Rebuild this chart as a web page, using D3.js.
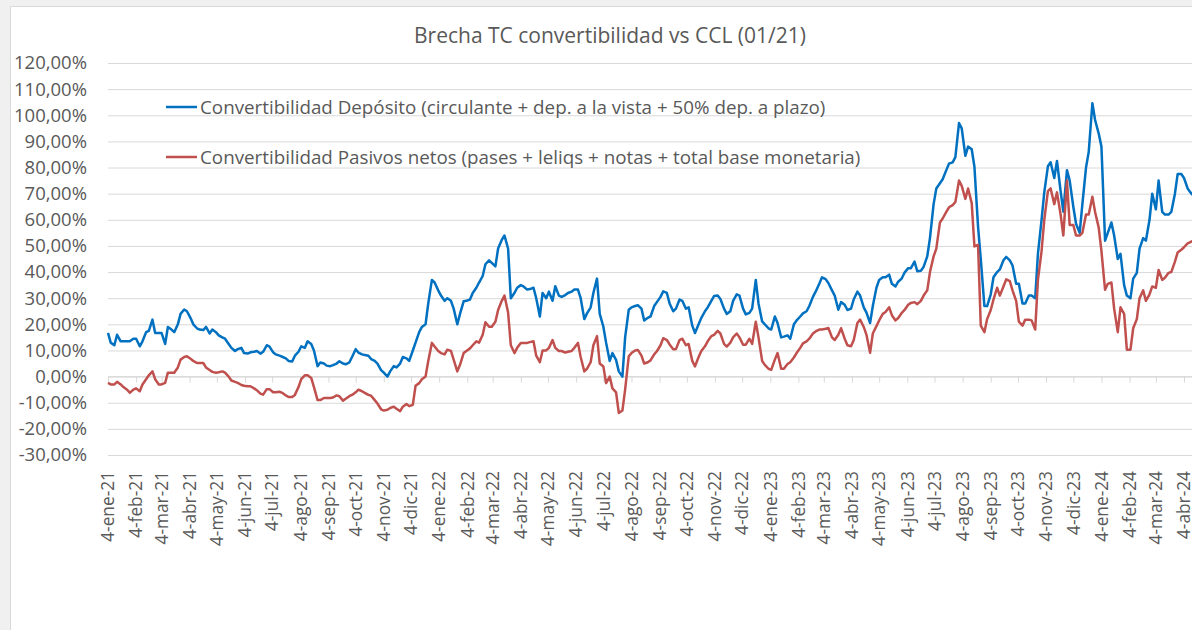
<!DOCTYPE html>
<html lang="es">
<head>
<meta charset="UTF-8">
<title>Brecha TC convertibilidad vs CCL</title>
<script src="https://d3js.org/d3.v7.min.js"></script>
<style>
  body { margin: 0; background: #f0f0f0; }
  svg { display: block; font-family: "Open Sans", "Noto Sans", sans-serif; }
</style>
</head>
<body>
<script>
    const width = 1192
    const height = 630

    const title = "Brecha TC convertibilidad vs CCL (01/21)"
    const seriesNames = [
        "Convertibilidad Depósito (circulante + dep. a la vista + 50% dep. a plazo)",
        "Convertibilidad Pasivos netos (pases + leliqs + notas + total base monetaria)"
    ]
    const colors = ["#0070C0", "#C0504D"]
    const shortMonths = ["ene", "feb", "mar", "abr", "may", "jun", "jul", "ago", "sep", "oct", "nov", "dic"]
    const yTicks = [-30, -20, -10, 0, 10, 20, 30, 40, 50, 60, 70, 80, 90, 100, 110, 120]
    const tickLabels = [
        "4-ene-21", "4-feb-21", "4-mar-21", "4-abr-21", "4-may-21", "4-jun-21", "4-jul-21", "4-ago-21",
        "4-sep-21", "4-oct-21", "4-nov-21", "4-dic-21", "4-ene-22", "4-feb-22", "4-mar-22", "4-abr-22",
        "4-may-22", "4-jun-22", "4-jul-22", "4-ago-22", "4-sep-22", "4-oct-22", "4-nov-22", "4-dic-22",
        "4-ene-23", "4-feb-23", "4-mar-23", "4-abr-23", "4-may-23", "4-jun-23", "4-jul-23", "4-ago-23",
        "4-sep-23", "4-oct-23", "4-nov-23", "4-dic-23", "4-ene-24", "4-feb-24", "4-mar-24", "4-abr-24"
    ]

    // readings taken on mondays ...
    const datesMon = [
        "2021-01-04","2021-01-11","2021-01-18","2021-01-25","2021-02-01","2021-02-08","2021-02-15","2021-02-22",
        "2021-03-01","2021-03-08","2021-03-15","2021-03-22","2021-03-29","2021-04-05","2021-04-12","2021-04-19",
        "2021-04-26","2021-05-03","2021-05-10","2021-05-17","2021-05-24","2021-05-31","2021-06-07","2021-06-14",
        "2021-06-21","2021-06-28","2021-07-05","2021-07-12","2021-07-19","2021-07-26","2021-08-02","2021-08-09",
        "2021-08-16","2021-08-23","2021-08-30","2021-09-06","2021-09-13","2021-09-20","2021-09-27","2021-10-04",
        "2021-10-11","2021-10-18","2021-10-25","2021-11-01","2021-11-08","2021-11-15","2021-11-22","2021-11-29",
        "2021-12-06","2021-12-13","2021-12-20","2021-12-27",
        "2022-01-03","2022-01-10","2022-01-17","2022-01-24","2022-01-31","2022-02-07","2022-02-14","2022-02-21",
        "2022-02-28","2022-03-07","2022-03-14","2022-03-21","2022-03-28","2022-04-04","2022-04-11","2022-04-18",
        "2022-04-25","2022-05-02","2022-05-09","2022-05-16","2022-05-23","2022-05-30","2022-06-06","2022-06-13",
        "2022-06-20","2022-06-27","2022-07-04","2022-07-11","2022-07-18","2022-07-25","2022-08-01","2022-08-08",
        "2022-08-15","2022-08-22","2022-08-29","2022-09-05","2022-09-12","2022-09-19","2022-09-26","2022-10-03",
        "2022-10-10","2022-10-17","2022-10-24","2022-10-31","2022-11-07","2022-11-14","2022-11-21","2022-11-28",
        "2022-12-05","2022-12-12","2022-12-19","2022-12-26",
        "2023-01-02","2023-01-09","2023-01-16","2023-01-23","2023-01-30","2023-02-06","2023-02-13","2023-02-20",
        "2023-02-27","2023-03-06","2023-03-13","2023-03-20","2023-03-27","2023-04-03","2023-04-10","2023-04-17",
        "2023-04-24","2023-05-01","2023-05-08","2023-05-15","2023-05-22","2023-05-29","2023-06-05","2023-06-12",
        "2023-06-19","2023-06-26","2023-07-03","2023-07-10","2023-07-17","2023-07-24","2023-07-31","2023-08-07",
        "2023-08-14","2023-08-21","2023-08-28","2023-09-04","2023-09-11","2023-09-18","2023-09-25","2023-10-02",
        "2023-10-09","2023-10-16","2023-10-23","2023-10-30","2023-11-06","2023-11-13","2023-11-20","2023-11-27",
        "2023-12-04","2023-12-11","2023-12-18","2023-12-25",
        "2024-01-01","2024-01-08","2024-01-15","2024-01-22","2024-01-29","2024-02-05","2024-02-12","2024-02-19",
        "2024-02-26","2024-03-04","2024-03-11","2024-03-18","2024-03-25","2024-04-01","2024-04-08","2024-04-15"
    ]
    const depositoMon = [
        16.7, 12, 13.5, 13.5, 14.5, 11.6, 17, 21.8, 16.7, 12.5,
        18, 20, 25.7, 22.4, 18.5, 17.8, 16.5, 17, 15, 12.5,
        9.8, 11, 8.8, 9.5, 8.8, 12, 9.3, 8, 7, 5.8,
        9.5, 11, 12.5, 4, 5, 4, 5, 5, 5.4, 10.5,
        8.5, 8, 6, 2.5, 0, 4, 5, 7, 10, 17,
        20, 37, 33, 29, 29, 20, 28.8, 29.5, 34, 38.5,
        44.5, 42.2, 52.3, 49, 32, 35, 33.3, 34, 23, 30,
        29, 31, 31.2, 32.5, 33.3, 22, 26.5, 37.5, 19.1, 6,
        6.4, 0, 25.6, 27, 26, 22.5, 27, 30.5, 32, 25,
        29.5, 26, 19.5, 20, 25, 29, 31, 26, 25, 31.5,
        26, 24.4, 37, 21.1, 18.5, 23, 15, 15.8, 20, 23,
        25, 30.5, 35.5, 37.3, 33, 25.6, 27.5, 26, 32.5, 26.5,
        20.5, 34, 38, 39, 34.5, 37.6, 41.5, 44, 40.5, 46,
        66, 74, 79, 82, 97, 84.5, 87, 57.4, 27, 31.5,
        40, 44.5, 44.5, 35.5, 28, 31, 30, 60, 80.5, 76,
        71, 79, 65, 55, 80, 104.6, 93, 52, 59, 45,
        35, 30, 39.7, 53, 60, 64, 63, 62, 70, 77.5,
        72, 69
    ]
    const pasivosMon = [
        -2.4, -3, -3, -5, -5, -5.6, -1, 2, -3, -2.4,
        1.5, 3.5, 7.5, 6.8, 5.2, 5.2, 2.5, 1.5, 2, 0,
        -2, -3.2, -3.7, -4.5, -6.5, -4.8, -6, -5.8, -7.2, -7.8,
        -4, 0.5, -0.5, -9, -8.2, -8.2, -7.2, -9.2, -7.5, -6,
        -5.6, -7, -9, -12.5, -12.7, -11.5, -13.2, -10.5, -10.8, -2.5,
        0, 12.9, 9.8, 8.5, 9.8, 2, 9, 10.8, 13.5, 16,
        19.1, 21, 29, 24.5, 9, 12.9, 12.9, 13.5, 5.5, 10,
        14, 9.8, 9.2, 9.8, 12.9, 2, 5.5, 15.5, 3.9, 0,
        -6, -13, 7.8, 10, 8, 5.5, 8.5, 12, 14, 10.5,
        14, 12, 6, 7.5, 11.6, 15.5, 17.5, 12.5, 13, 16.5,
        12.2, 14.5, 21, 6, 3, 6.5, 3, 4.8, 7.3, 11,
        13.5, 16.5, 18, 18.3, 15, 16, 14.5, 11.6, 20.5, 19,
        9.1, 19.3, 24, 26.5, 21.5, 24.4, 27.5, 28.5, 29, 33,
        46, 59, 63, 65.6, 75, 68, 66.4, 50.4, 17, 25.5,
        34, 34.5, 36.5, 29, 19.5, 21.8, 18, 48, 71, 66,
        62, 75, 58, 54, 62, 68.8, 57, 33.2, 36, 17,
        24, 10.3, 22, 33, 31.5, 34, 37, 39.7, 44, 48.5,
        51, 52
    ]

    // ... and on thursdays
    const datesThu = [
        "2021-01-07","2021-01-14","2021-01-21","2021-01-28","2021-02-04","2021-02-11","2021-02-18","2021-02-25",
        "2021-03-04","2021-03-11","2021-03-18","2021-03-25","2021-04-01","2021-04-08","2021-04-15","2021-04-22",
        "2021-04-29","2021-05-06","2021-05-13","2021-05-20","2021-05-27","2021-06-03","2021-06-10","2021-06-17",
        "2021-06-24","2021-07-01","2021-07-08","2021-07-15","2021-07-22","2021-07-29","2021-08-05","2021-08-12",
        "2021-08-19","2021-08-26","2021-09-02","2021-09-09","2021-09-16","2021-09-23","2021-09-30","2021-10-07",
        "2021-10-14","2021-10-21","2021-10-28","2021-11-04","2021-11-11","2021-11-18","2021-11-25","2021-12-02",
        "2021-12-09","2021-12-16","2021-12-23","2021-12-30",
        "2022-01-06","2022-01-13","2022-01-20","2022-01-27","2022-02-03","2022-02-10","2022-02-17","2022-02-24",
        "2022-03-03","2022-03-10","2022-03-17","2022-03-24","2022-03-31","2022-04-07","2022-04-14","2022-04-21",
        "2022-04-28","2022-05-05","2022-05-12","2022-05-19","2022-05-26","2022-06-02","2022-06-09","2022-06-16",
        "2022-06-23","2022-06-30","2022-07-07","2022-07-14","2022-07-21","2022-07-28","2022-08-04","2022-08-11",
        "2022-08-18","2022-08-25","2022-09-01","2022-09-08","2022-09-15","2022-09-22","2022-09-29","2022-10-06",
        "2022-10-13","2022-10-20","2022-10-27","2022-11-03","2022-11-10","2022-11-17","2022-11-24","2022-12-01",
        "2022-12-08","2022-12-15","2022-12-22","2022-12-29",
        "2023-01-05","2023-01-12","2023-01-19","2023-01-26","2023-02-02","2023-02-09","2023-02-16","2023-02-23",
        "2023-03-02","2023-03-09","2023-03-16","2023-03-23","2023-03-30","2023-04-06","2023-04-13","2023-04-20",
        "2023-04-27","2023-05-04","2023-05-11","2023-05-18","2023-05-25","2023-06-01","2023-06-08","2023-06-15",
        "2023-06-22","2023-06-29","2023-07-06","2023-07-13","2023-07-20","2023-07-27","2023-08-03","2023-08-10",
        "2023-08-17","2023-08-24","2023-08-31","2023-09-07","2023-09-14","2023-09-21","2023-09-28","2023-10-05",
        "2023-10-12","2023-10-19","2023-10-26","2023-11-02","2023-11-09","2023-11-16","2023-11-23","2023-11-30",
        "2023-12-07","2023-12-14","2023-12-21","2023-12-28",
        "2024-01-04","2024-01-11","2024-01-18","2024-01-25","2024-02-01","2024-02-08","2024-02-15","2024-02-22",
        "2024-02-29","2024-03-07","2024-03-14","2024-03-21","2024-03-28","2024-04-04","2024-04-11"
    ]
    const depositoThu = [
        13, 16, 13.5, 13.5, 14.5, 13.5, 17.5, 16.7, 16.7, 19,
        17, 24, 25, 20, 18, 19, 18, 15.8, 14.5, 11,
        10.5, 9, 9.3, 9.8, 9.5, 11.5, 8.5, 7.6, 6, 8,
        11.6, 13.5, 10, 5.4, 4.2, 4.4, 5.9, 4.7, 7.5, 9.2,
        8.3, 6.7, 5, 1.5, 2, 3.5, 7.5, 6, 13, 19,
        28, 36, 31, 30, 26, 24, 29, 32, 36, 43,
        43.5, 49, 54, 30, 34, 34.5, 33.5, 30, 32, 32.5,
        34.6, 30.5, 32, 33.3, 30, 24.2, 32, 24, 13, 9,
        2, 15, 26.5, 27.3, 21.5, 23, 28.5, 32.6, 28, 26,
        29, 26.5, 16.7, 22.5, 26.5, 30.8, 29.7, 24, 29, 31,
        23.8, 26, 28, 20, 18, 20.5, 15.3, 14.5, 21.5, 24.2,
        27, 32.5, 38, 35.8, 31, 28.5, 25.5, 29.6, 31, 24.5,
        27, 37, 38, 35.5, 36.3, 39.8, 41.5, 40.3, 42, 53,
        72, 75.5, 81.5, 84, 95, 88, 80.3, 45, 27, 38,
        41, 45.8, 42.5, 35.5, 28, 31, 47, 70.5, 82, 82.5,
        63.1, 75, 58.5, 66, 86, 98.2, 88, 55, 54, 47,
        31, 37.5, 49, 52, 70, 75, 62, 63, 77.5, 76,
        70.5
    ]
    const pasivosThu = [
        -3, -2, -4, -6.2, -4.5, -3, 0.5, -1, -3, 1.5,
        1.5, 6.5, 7.8, 6, 5.2, 3.5, 1.8, 1.7, 1.5, -1.5,
        -2.4, -3.5, -3.7, -5.2, -6.9, -4.8, -6, -6.2, -7.8, -7,
        -1, 0.5, -4, -9, -8.2, -8, -7.5, -8.5, -7, -5,
        -6.2, -7.3, -10.3, -13, -12, -12.3, -11.5, -11.3, -3.5, -1,
        6, 11.5, 9, 10.3, 6.5, 4.5, 9.8, 12, 13, 20.8,
        19.1, 25.5, 31, 12, 11, 12.9, 13.2, 8, 10, 11,
        11, 9.8, 9.5, 11, 7.5, 3, 12, 5, -2.5, -4.5,
        -13.9, -5, 9, 10.2, 5, 6.2, 9.7, 14.7, 12.3, 10.5,
        14.5, 12.5, 3.9, 9.8, 13.5, 16, 16.5, 11.5, 15, 15,
        12.2, 12.5, 15, 4.5, 2.6, 9, 3, 5.5, 9, 12.7,
        14.5, 17.3, 18, 18.6, 14, 18.5, 12, 14, 21.8, 16,
        16.5, 21.5, 24.7, 23.5, 22.4, 25.5, 28.2, 27.7, 31, 40,
        49, 60.5, 64.8, 66.8, 73, 72, 49.8, 19.5, 22, 29.5,
        31, 37.2, 33, 21, 21.8, 21.5, 37, 60, 72, 70.5,
        54, 58, 54, 55, 62, 63, 48, 35.5, 26, 26.5,
        10.3, 18.5, 30, 29, 34.5, 40.8, 37.8, 40, 47.5, 49.5,
        51.5
    ]

    const es = d3.timeFormatLocale({
        dateTime: "%x, %X", date: "%d/%m/%Y", time: "%H:%M:%S", periods: ["AM", "PM"],
        days: ["domingo", "lunes", "martes", "miércoles", "jueves", "viernes", "sábado"],
        shortDays: ["dom", "lun", "mar", "mié", "jue", "vie", "sáb"],
        months: ["enero", "febrero", "marzo", "abril", "mayo", "junio", "julio", "agosto", "septiembre", "octubre", "noviembre", "diciembre"],
        shortMonths: shortMonths
    })
    const parseTick = es.parse("%d-%b-%y")
    const parseDate = d3.timeParse("%Y-%m-%d")
    const pct = d3.formatLocale({decimal: ",", thousands: ".", grouping: [3], currency: ["$", ""], minus: "-"}).format(".2%")

    const tickDates = tickLabels.map(parseTick)

    // merge both reading days into one sorted table per series
    function toRows(mon, thu) {
        const rows = datesMon.map((d, i) => ({date: parseDate(d), value: mon[i]}))
            .concat(datesThu.map((d, i) => ({date: parseDate(d), value: thu[i]})))
        return rows.sort((a, b) => a.date - b.date)
    }
    const series = [toRows(depositoMon, depositoThu), toRows(pasivosMon, pasivosThu)]

    const svg = d3.select("body").append("svg")
        .attr("width", width)
        .attr("height", height)

    // chart frame
    svg.append("rect")
        .attr("x", 10.5).attr("y", 6.5)
        .attr("width", width + 20).attr("height", height + 20)
        .attr("fill", "#fff").attr("stroke", "#d9d9d9")

    const xScale = d3.scaleTime()
        .domain([tickDates[0], tickDates[tickDates.length - 1]])
        .range([108, 1184])
    const yScale = d3.scaleLinear()
        .domain([-30, 120])
        .range([455, 63])

    // gridlines + y labels
    const yAxis = d3.axisLeft(yScale)
        .tickValues(yTicks)
        .tickSize(-(width - 108 + 10))
        .tickPadding(21)
        .tickFormat(d => pct(d / 100))
    const gy = svg.append("g")
        .attr("transform", "translate(108,0)")
        .call(yAxis)
    gy.select(".domain").remove()
    gy.selectAll(".tick line").attr("stroke", "#d9d9d9").attr("stroke-width", 1)
    gy.selectAll(".tick text")
        .attr("fill", "#595959")
        .attr("font-size", 18.5)
        .attr("font-family", "'Open Sans', sans-serif")

    // x axis crossing at 0
    const xAxis = d3.axisBottom(xScale)
        .tickValues(tickDates)
        .tickSize(6)
        .tickFormat("")
    const gx = svg.append("g")
        .attr("transform", "translate(0," + yScale(0) + ")")
        .call(xAxis)
    gx.select(".domain").attr("d", "M108,0H" + (width + 10)).attr("stroke", "#d9d9d9")
    gx.selectAll(".tick line").attr("stroke", "#d9d9d9")

    // x labels, low position
    svg.append("g")
        .selectAll("text")
        .data(tickDates)
        .join("text")
        .attr("transform", d => "translate(" + xScale(d) + ",471) rotate(-90)")
        .attr("text-anchor", "end")
        .attr("dy", "0.36em")
        .attr("fill", "#595959")
        .attr("font-size", 17.3)
        .text((d, i) => tickLabels[i])

    // lines
    const line = d3.line()
        .x(d => xScale(d.date))
        .y(d => yScale(d.value))
    series.forEach((s, j) => {
        svg.append("path")
            .attr("d", line(s))
            .attr("fill", "none")
            .attr("stroke", colors[j])
            .attr("stroke-width", 2.5)
            .attr("stroke-linejoin", "round")
    })

    // legend
    const legendY = [107, 157]
    seriesNames.forEach((name, j) => {
        svg.append("line")
            .attr("x1", 166).attr("x2", 197)
            .attr("y1", legendY[j]).attr("y2", legendY[j])
            .attr("stroke", colors[j])
            .attr("stroke-width", 2.5)
        svg.append("text")
            .attr("x", 200)
            .attr("y", legendY[j])
            .attr("dy", "0.35em")
            .attr("fill", "#595959")
            .attr("font-size", 18.8)
            .text(name)
    })

    svg.append("text")
        .attr("x", 610)
        .attr("y", 43)
        .attr("text-anchor", "middle")
        .attr("fill", "#595959")
        .attr("font-size", 21)
        .text(title)
</script>
</body>
</html>
